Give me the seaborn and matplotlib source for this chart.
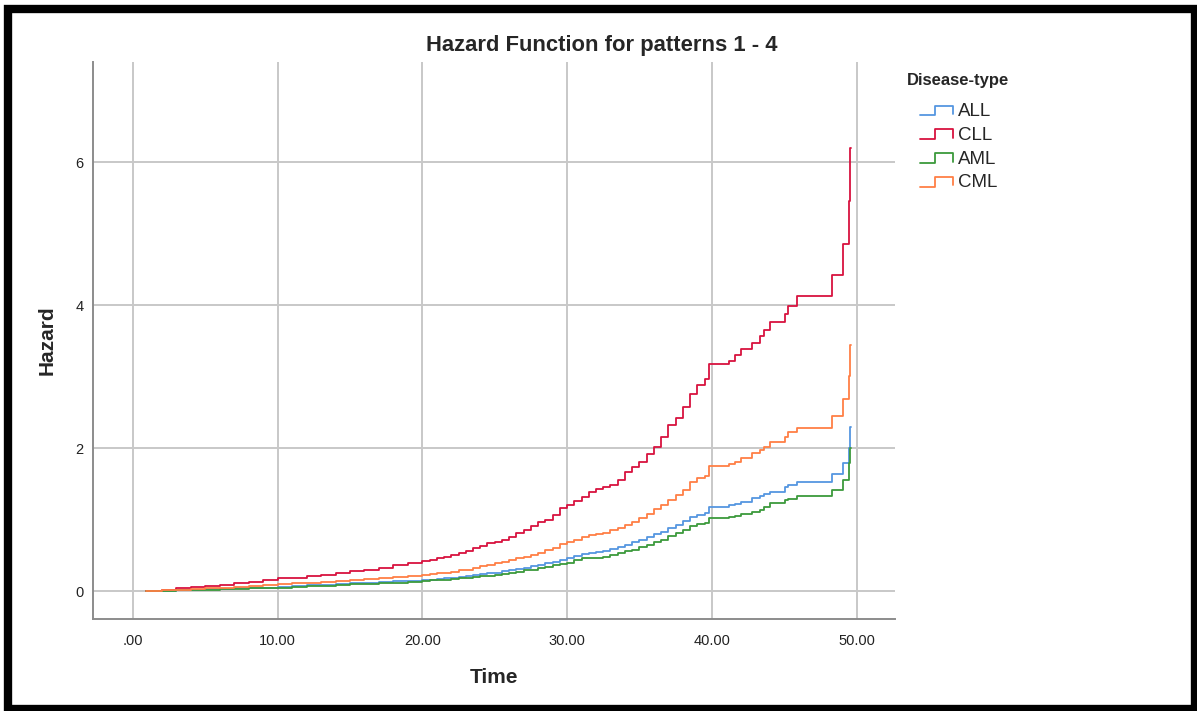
import numpy as np
import pandas as pd
import matplotlib
matplotlib.use("Agg")
import matplotlib.pyplot as plt
import seaborn as sns
from matplotlib.lines import Line2D
from matplotlib.patches import Rectangle
from matplotlib.legend_handler import HandlerBase

sns.set_theme(style="white")
plt.rcParams["font.family"] = ["Liberation Sans", "DejaVu Sans"]

# data (cumulative hazard, step function)
time = [0.9, 2, 3, 4, 5, 6, 7, 8, 9, 10, 11, 12, 13, 14, 15, 16, 17, 18, 19,
        20, 20.5, 21, 21.5, 22, 22.5, 23, 23.5, 24, 24.5, 25, 25.5, 26, 26.5, 27, 27.5,
        28, 28.5, 29, 29.5, 30, 30.5, 31, 31.5, 32, 32.5, 33, 33.5, 34, 34.5, 35, 35.5,
        36, 36.5, 37, 37.5, 38, 38.5, 39, 39.5,
        39.8, 41.2, 41.6, 42.0, 42.8, 43.3, 43.6, 44.0, 45.05, 45.3, 45.9, 48.3, 49.1,
        49.45, 49.55, 49.6]

hz_all = [0, 0.005, 0.01, 0.02, 0.025, 0.03, 0.04, 0.045, 0.05, 0.06, 0.07, 0.08, 0.09,
          0.10, 0.11, 0.12, 0.13, 0.14, 0.145,
          0.15, 0.16, 0.17, 0.18, 0.19, 0.20, 0.21, 0.22, 0.235, 0.25,
          0.26, 0.275, 0.29, 0.31, 0.33, 0.35, 0.37, 0.39, 0.41, 0.44,
          0.46, 0.49, 0.52, 0.54, 0.55, 0.56, 0.59, 0.62, 0.65, 0.69,
          0.72, 0.76, 0.80, 0.83, 0.88, 0.93, 0.98, 1.03, 1.06, 1.09,
          1.17, 1.20, 1.22, 1.25, 1.30, 1.33, 1.36, 1.39, 1.46, 1.48, 1.53, 1.64, 1.79,
          2.00, 2.29, 2.29]

hz_cll = [0, 0.02, 0.04, 0.055, 0.07, 0.09, 0.11, 0.13, 0.15, 0.18, 0.19, 0.21, 0.23,
          0.25, 0.28, 0.30, 0.33, 0.36, 0.39,
          0.42, 0.43, 0.46, 0.48, 0.51, 0.53, 0.56, 0.60, 0.63, 0.67,
          0.69, 0.72, 0.76, 0.81, 0.86, 0.91, 0.96, 1.00, 1.06, 1.16,
          1.21, 1.26, 1.32, 1.39, 1.43, 1.46, 1.48, 1.55, 1.66, 1.74,
          1.80, 1.92, 2.02, 2.15, 2.33, 2.42, 2.58, 2.75, 2.88, 2.97,
          3.17, 3.22, 3.30, 3.38, 3.47, 3.57, 3.65, 3.76, 3.87, 3.99, 4.13, 4.42, 4.85,
          5.45, 6.20, 6.20]

hz_aml = [0, 0.005, 0.01, 0.015, 0.02, 0.025, 0.03, 0.04, 0.045, 0.05, 0.06, 0.07, 0.075,
          0.085, 0.095, 0.10, 0.11, 0.12, 0.13,
          0.14, 0.15, 0.155, 0.16, 0.17, 0.18, 0.19, 0.20, 0.205, 0.21,
          0.22, 0.235, 0.25, 0.27, 0.29, 0.30, 0.32, 0.34, 0.36, 0.38,
          0.40, 0.43, 0.46, 0.47, 0.47, 0.48, 0.51, 0.53, 0.56, 0.58,
          0.61, 0.64, 0.68, 0.72, 0.77, 0.81, 0.86, 0.91, 0.94, 0.95,
          1.02, 1.04, 1.05, 1.08, 1.11, 1.14, 1.18, 1.23, 1.27, 1.29, 1.33, 1.41, 1.55,
          1.79, 2.00, 2.00]

hz_cml = [0, 0.01, 0.02, 0.03, 0.04, 0.05, 0.06, 0.07, 0.08, 0.10, 0.11, 0.12, 0.13,
          0.14, 0.16, 0.17, 0.18, 0.20, 0.21,
          0.23, 0.24, 0.25, 0.26, 0.27, 0.29, 0.30, 0.32, 0.35, 0.37,
          0.39, 0.41, 0.43, 0.46, 0.48, 0.50, 0.54, 0.57, 0.60, 0.66,
          0.69, 0.72, 0.75, 0.78, 0.80, 0.81, 0.85, 0.88, 0.93, 0.97,
          1.02, 1.08, 1.15, 1.21, 1.28, 1.34, 1.42, 1.53, 1.58, 1.61,
          1.75, 1.78, 1.81, 1.86, 1.93, 1.97, 2.02, 2.09, 2.16, 2.23, 2.28, 2.45, 2.68,
          3.01, 3.44, 3.44]

groups = ["ALL", "CLL", "AML", "CML"]
colors = ["#5596e0", "#d8123f", "#3c9a3c", "#ff7f45"]
xticks = [0, 10, 20, 30, 40, 50]
xticklabels = [".00", "10.00", "20.00", "30.00", "40.00", "50.00"]
yticks = [0, 2, 4, 6]

frames = []
for g, vals in zip(groups, [hz_all, hz_cll, hz_aml, hz_cml]):
    frames.append(pd.DataFrame({"Time": time, "Hazard": vals, "Disease-type": g}))
df = pd.concat(frames, ignore_index=True)

fig = plt.figure(figsize=(11.97, 7.11), dpi=100)
ax = fig.add_axes([93 / 1197, 1 - 619 / 711, (895 - 93) / 1197, (619 - 62) / 711])

sns.lineplot(data=df, x="Time", y="Hazard", hue="Disease-type", hue_order=groups,
             palette=colors, estimator=None, sort=False, drawstyle="steps-post",
             linewidth=1.3, legend=False, ax=ax)

ax.set_xlim(-2.76, 52.66)
ax.set_ylim(-0.39, 7.4)
ax.set_xticks(xticks)
ax.set_xticklabels(xticklabels)
ax.set_yticks(yticks)
ax.tick_params(axis="both", length=0, labelsize=10.5, colors="#222222")
ax.tick_params(axis="x", pad=11)
ax.tick_params(axis="y", pad=7)
ax.grid(True, color="#c8c8c8", linewidth=1.4)
ax.set_axisbelow(True)
for s in ["top", "right"]:
    ax.spines[s].set_visible(False)
for s in ["left", "bottom"]:
    ax.spines[s].set_color("#8c8c8c")
    ax.spines[s].set_linewidth(1.4)

ax.set_xlabel("Time", fontsize=15, fontweight="bold", labelpad=14)
ax.set_ylabel("Hazard", fontsize=15, fontweight="bold", labelpad=13)

fig.text(0.503, 1 - 45 / 711, "Hazard Function for patterns 1 - 4",
         ha="center", va="center", fontsize=15.8, fontweight="bold")


# step-shaped legend icons, indented under the title
class StepHandler(HandlerBase):
    def create_artists(self, legend, orig_handle, xdescent, ydescent, width, height, fontsize, trans):
        x = np.array([0.28, 0.62, 0.62, 1.0, 1.0]) * width - xdescent
        y = np.array([0.05, 0.05, 0.8, 0.8, 0.15]) * height - ydescent
        return [Line2D(x, y, color=orig_handle.get_color(), lw=1.3, transform=trans)]


fig.text(907 / 1197, 1 - 80 / 711, "Disease-type", ha="left", va="center",
         fontsize=12, fontweight="bold")
handles = [Line2D([], [], color=c) for c in colors]
leg = fig.legend(handles, groups, loc="upper left", bbox_to_anchor=(907 / 1197, 1 - 103 / 711),
                 frameon=False, fontsize=13.5, borderpad=0, borderaxespad=0,
                 handler_map={Line2D: StepHandler()}, handlelength=2.45, handletextpad=0.25,
                 labelspacing=0.35)

# black frame around the picture
fig.patches.append(Rectangle((8 / 1197, 2 / 711), 1187 / 1197, 700 / 711, transform=fig.transFigure,
                             fill=False, edgecolor="black", linewidth=6))

fig.savefig("out.png", dpi=100, facecolor="white")
